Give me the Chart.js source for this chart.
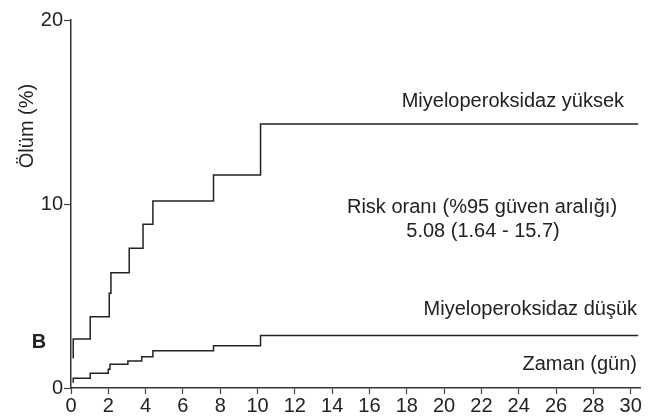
<!DOCTYPE html>
<html>
<head>
<meta charset="utf-8">
<script src="https://cdn.jsdelivr.net/npm/chart.js@4"></script>
<style>
  html, body { margin: 0; padding: 0; background: #fff; }
  #wrap { width: 657px; height: 418px; }
</style>
</head>
<body>
<div id="wrap"><canvas id="myChart" width="657" height="418"></canvas></div>
<script>
// Kaplan-Meier style step curves (days, % death)
const highDays = [0.12, 0.12, 1.03, 2.05, 2.14, 3.12, 3.86, 4.39, 7.64, 10.16, 30.4];
const highVals = [1.6, 2.66, 3.87, 5.15, 6.27, 7.6, 8.9, 10.16, 11.58, 14.35, 14.35];
const lowDays = [0.12, 0.12, 1.03, 2.0, 2.09, 3.05, 3.79, 4.39, 7.64, 10.16, 30.4];
const lowVals = [0.29, 0.53, 0.8, 1.02, 1.29, 1.47, 1.7, 2.03, 2.3, 2.86, 2.86];
const xTicks = [0, 2, 4, 6, 8, 10, 12, 14, 16, 18, 20, 22, 24, 26, 28, 30];
const yTicks = [0, 10, 20];

const FONT = "'Liberation Sans', Arial, Helvetica, sans-serif";
const ink = "#222";

function toPoints(xs, ys) {
  return xs.map((x, i) => ({ x: x, y: ys[i] }));
}

const textPlugin = {
  id: "texts",
  afterDraw(chart) {
    const ctx = chart.ctx;
    ctx.save();
    ctx.fillStyle = ink;
    ctx.textBaseline = "middle";
    ctx.font = "20px " + FONT;

    ctx.textAlign = "right";
    ctx.fillText("Miyeloperoksidaz yüksek", 624, 101);
    ctx.fillText("Miyeloperoksidaz düşük", 637, 309);
    ctx.fillText("Zaman (gün)", 637, 364);

    ctx.textAlign = "center";
    ctx.fillText("Risk oranı (%95 güven aralığı)", 482, 207);
    ctx.fillText("5.08 (1.64 - 15.7)", 483, 231);

    ctx.font = "bold 20px " + FONT;
    ctx.fillText("B", 39, 342);

    ctx.font = "20px " + FONT;
    ctx.translate(27, 126);
    ctx.rotate(-Math.PI / 2);
    ctx.fillText("Ölüm (%)", 0, 0);
    ctx.restore();
  }
};

new Chart("myChart", {
  type: "line",
  data: {
    datasets: [{
      data: toPoints(highDays, highVals),
      borderColor: ink,
      borderWidth: 1.5,
      stepped: true,
      pointRadius: 0,
      fill: false
    }, {
      data: toPoints(lowDays, lowVals),
      borderColor: ink,
      borderWidth: 1.5,
      stepped: true,
      pointRadius: 0,
      fill: false
    }]
  },
  options: {
    responsive: false,
    animation: false,
    layout: { padding: { top: 20, right: 17, bottom: 0, left: 0 } },
    plugins: {
      legend: { display: false },
      tooltip: { enabled: false }
    },
    scales: {
      x: {
        type: "linear",
        min: 0,
        max: 30.5,
        afterBuildTicks: s => { s.ticks = xTicks.map(v => ({ value: v })); },
        afterFit: s => { s.height = 30; },
        grid: { drawOnChartArea: false, tickLength: 6, tickColor: "#444", tickWidth: 1.2 },
        border: { color: "#333", width: 1.5 },
        ticks: { color: ink, padding: 0, font: { family: FONT, size: 20 }, maxRotation: 0 }
      },
      y: {
        min: 0,
        max: 20,
        afterBuildTicks: s => { s.ticks = yTicks.map(v => ({ value: v })); },
        afterFit: s => { s.width = 71; },
        grid: { drawOnChartArea: false, tickLength: 7, tickColor: "#444", tickWidth: 1.2 },
        border: { color: "#333", width: 1.5 },
        ticks: { color: ink, padding: 1, font: { family: FONT, size: 20 } }
      }
    }
  },
  plugins: [textPlugin]
});
</script>
</body>
</html>
